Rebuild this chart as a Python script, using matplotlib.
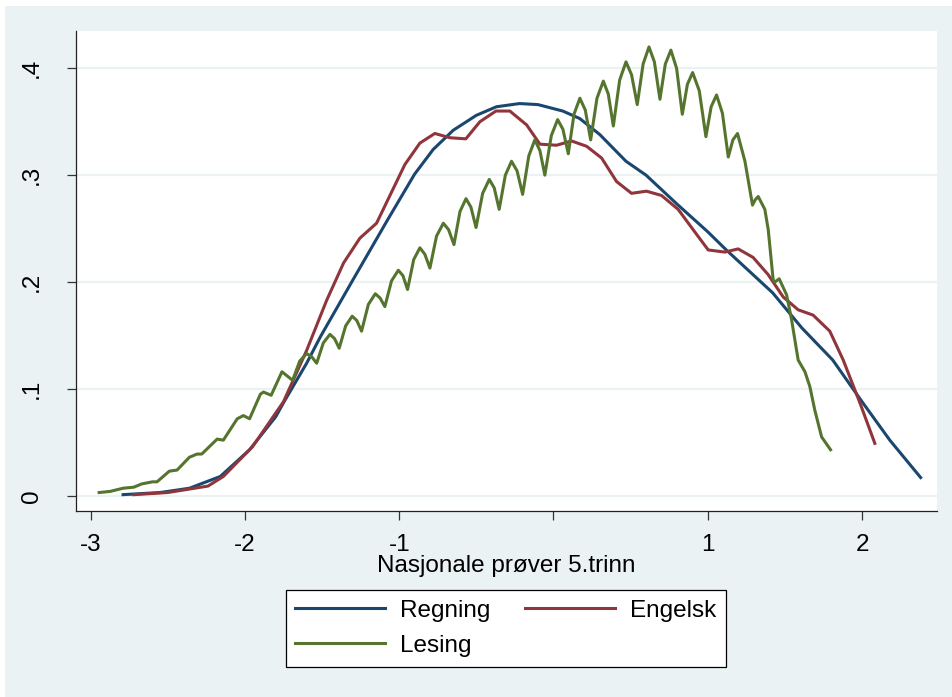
import matplotlib
matplotlib.use("Agg")
import matplotlib.pyplot as plt
from matplotlib.patches import Rectangle

plt.rcParams['font.family'] = ['Liberation Sans', 'DejaVu Sans']

# Kernel-tetthet
regning_x = [-2.79, -2.55, -2.36, -2.16, -1.97, -1.80, -1.75, -1.60, -1.51, -1.30,
             -1.08, -0.90, -0.78, -0.65, -0.50, -0.37, -0.22, -0.10, 0.06, 0.17,
             0.30, 0.47, 0.60, 0.80, 1.00, 1.12, 1.42, 1.61, 1.81, 1.99, 2.18, 2.38]
regning_y = [0.001, 0.003, 0.007, 0.018, 0.043, 0.074, 0.087, 0.124, 0.149, 0.202,
             0.257, 0.301, 0.324, 0.342, 0.356, 0.364, 0.367, 0.366, 0.360, 0.353,
             0.338, 0.313, 0.300, 0.273, 0.247, 0.230, 0.190, 0.157, 0.127, 0.090, 0.052, 0.017]

engelsk_x = [-2.72, -2.50, -2.24, -2.14, -1.95, -1.75, -1.60, -1.47, -1.36, -1.255,
             -1.147, -0.963, -0.866, -0.769, -0.671, -0.568, -0.477, -0.373, -0.283, -0.174,
             -0.088, 0.020, 0.117, 0.215, 0.312, 0.409, 0.506, 0.603, 0.700, 0.808,
             0.905, 1.003, 1.111, 1.197, 1.294, 1.391, 1.489, 1.586, 1.683, 1.791,
             1.878, 1.986, 2.083]
engelsk_y = [0.001, 0.003, 0.009, 0.018, 0.046, 0.088, 0.136, 0.183, 0.218, 0.241,
             0.255, 0.310, 0.330, 0.339, 0.335, 0.334, 0.350, 0.360, 0.360, 0.347,
             0.329, 0.328, 0.332, 0.327, 0.316, 0.294, 0.283, 0.285, 0.281, 0.268,
             0.249, 0.230, 0.228, 0.231, 0.223, 0.207, 0.186, 0.174, 0.169, 0.154,
             0.127, 0.087, 0.049]

lesing_x = [-2.945, -2.875, -2.79, -2.72, -2.67, -2.60, -2.57, -2.49, -2.44, -2.36,
            -2.31, -2.28, -2.18, -2.14, -2.05, -2.01, -1.97, -1.90, -1.88, -1.83,
            -1.76, -1.691, -1.645, -1.600, -1.567, -1.535, -1.492, -1.449, -1.419, -1.389,
            -1.347, -1.305, -1.275, -1.244, -1.200, -1.155, -1.124, -1.093, -1.050, -1.006,
            -0.976, -0.946, -0.906, -0.866, -0.834, -0.801, -0.758, -0.714, -0.680, -0.645,
            -0.606, -0.567, -0.535, -0.502, -0.459, -0.416, -0.384, -0.352, -0.312, -0.272,
            -0.236, -0.200, -0.160, -0.121, -0.088, -0.056, -0.014, 0.027, 0.061, 0.096,
            0.133, 0.171, 0.206, 0.241, 0.282, 0.323, 0.355, 0.388, 0.429, 0.470,
            0.506, 0.543, 0.581, 0.619, 0.654, 0.690, 0.725, 0.761, 0.798, 0.835,
            0.868, 0.902, 0.945, 0.988, 1.022, 1.057, 1.095, 1.133, 1.163, 1.193,
            1.241, 1.290, 1.308, 1.327, 1.370, 1.392, 1.424, 1.435, 1.463, 1.511,
            1.543, 1.586, 1.630, 1.662, 1.694, 1.738, 1.796]
lesing_y = [0.003, 0.004, 0.007, 0.008, 0.011, 0.013, 0.013, 0.023, 0.024, 0.036,
            0.039, 0.039, 0.053, 0.052, 0.072, 0.075, 0.072, 0.095, 0.097, 0.094,
            0.116, 0.108, 0.126, 0.133, 0.130, 0.124, 0.143, 0.151, 0.147, 0.138,
            0.159, 0.168, 0.164, 0.154, 0.179, 0.189, 0.185, 0.177, 0.201, 0.211,
            0.206, 0.193, 0.221, 0.232, 0.226, 0.213, 0.243, 0.255, 0.249, 0.235,
            0.266, 0.278, 0.270, 0.251, 0.283, 0.296, 0.288, 0.268, 0.300, 0.313,
            0.304, 0.282, 0.318, 0.333, 0.323, 0.300, 0.337, 0.352, 0.343, 0.320,
            0.357, 0.372, 0.361, 0.333, 0.372, 0.388, 0.376, 0.346, 0.389, 0.406,
            0.394, 0.366, 0.404, 0.420, 0.406, 0.371, 0.404, 0.417, 0.400, 0.357,
            0.385, 0.396, 0.379, 0.336, 0.364, 0.375, 0.358, 0.317, 0.333, 0.339,
            0.313, 0.272, 0.277, 0.280, 0.268, 0.249, 0.202, 0.200, 0.203, 0.188,
            0.165, 0.127, 0.116, 0.102, 0.080, 0.055, 0.043]

x_ticks = [-3, -2, -1, 0, 1, 2]
x_labels = ['-3', '-2', '-1', '', '1', '2']
y_ticks = [0, 0.1, 0.2, 0.3, 0.4]
y_labels = ['0', '.1', '.2', '.3', '.4']

bg = '#EAF2F3'
fig = plt.figure(figsize=(9.52, 6.97), dpi=100, facecolor=bg)
# hvite kanter øverst og til venstre
fig.patches.append(Rectangle((0, 1 - 6 / 697), 1, 6 / 697, transform=fig.transFigure,
                             facecolor='white', edgecolor='none', zorder=0))
fig.patches.append(Rectangle((0, 0), 5 / 952, 1, transform=fig.transFigure,
                             facecolor='white', edgecolor='none', zorder=0))

ax = fig.add_axes([75.7 / 952, 186 / 697, 861 / 952, 480 / 697])
ax.set_facecolor('white')

for yv in y_ticks:
    ax.axhline(yv, color=bg, linewidth=1.6, zorder=1)

l1, = ax.plot(regning_x, regning_y, color='#1A476F', linewidth=2.2, label='Regning', zorder=3)
l2, = ax.plot(engelsk_x, engelsk_y, color='#90353B', linewidth=2.2, label='Engelsk', zorder=3)
l3, = ax.plot(lesing_x, lesing_y, color='#55752F', linewidth=2.2, label='Lesing', zorder=3,
              solid_joinstyle='round')

ax.set_xlim(-3.097, 2.484)
ax.set_ylim(-0.0143, 0.4349)

for s in ['top', 'right']:
    ax.spines[s].set_visible(False)
for s in ['left', 'bottom']:
    ax.spines[s].set_color('#222222')
    ax.spines[s].set_linewidth(0.9)

ax.set_xticks(x_ticks)
ax.set_xticklabels(x_labels)
ax.set_yticks(y_ticks)
ax.set_yticklabels(y_labels, rotation=90, va='center')
ax.tick_params(axis='both', direction='out', length=6.5, width=0.9, color='#333333',
               labelsize=17.5)
ax.tick_params(axis='x', pad=10)
ax.tick_params(axis='y', pad=17)

ax.set_xlabel('Nasjonale prøver 5.trinn', fontsize=17.5)
ax.xaxis.set_label_coords(0.5, -0.092)

leg = fig.legend([l1, l3, l2], ['Regning', 'Lesing', 'Engelsk'], ncol=2,
                 loc='center', bbox_to_anchor=(0.5313, 0.0986), fontsize=17.5,
                 frameon=True, fancybox=False, edgecolor='black', facecolor='white',
                 framealpha=1, borderpad=0.4, handlelength=3.7, handletextpad=0.62,
                 columnspacing=1.4, labelspacing=0.54)
leg.get_frame().set_linewidth(0.9)

fig.savefig('out.png', dpi=100, facecolor=bg)
